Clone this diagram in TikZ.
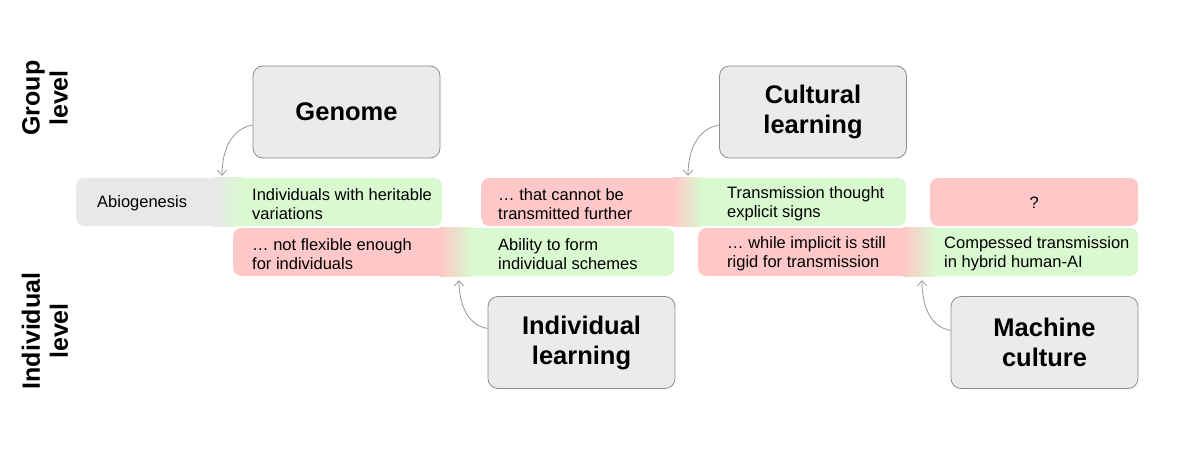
\documentclass[tikz,border=0pt]{standalone}
\usepackage{fontspec}
\setmainfont{Liberation Sans}
\usepackage{xcolor}
\usepackage{tikz}
\usetikzlibrary{arrows.meta,positioning}
\definecolor{barred}{RGB}{255,200,200}
\definecolor{bargreen}{RGB}{217,249,208}
\definecolor{bargray}{RGB}{232,232,232}
\definecolor{boxgray}{RGB}{235,235,235}
\definecolor{edgegray}{RGB}{140,140,140}
\definecolor{linkgray}{RGB}{150,150,150}

\begin{document}
\begin{tikzpicture}[x=1pt,y=-1pt,
  bar/.style={rounded corners=8pt,minimum height=48pt,inner sep=0pt,anchor=west},
  bartext/.style={anchor=west,align=left,inner sep=0pt,
        font=\fontsize{16.5}{19}\selectfont},
  stagebox/.style={draw=edgegray,fill=boxgray,rounded corners=10pt,line width=0.8pt,
        minimum width=187pt,minimum height=92pt,align=center,
        font=\fontsize{25.5}{30}\selectfont\bfseries},
  levellabel/.style={rotate=90,align=center,font=\fontsize{25}{28}\selectfont\bfseries},
  link/.style={-{Straight Barb[length=5pt,width=9pt]},draw=linkgray,line width=0.8pt}]
  \useasboundingbox (0,0) rectangle (1200,455);

  % group row
  \node[bar,fill=bargray,minimum width=150pt] (abio) at (76,202) {};
  \node[bar,fill=bargreen,minimum width=216pt] (heritable) at (226,202) {};
  \node[bar,fill=barred,minimum width=215pt] (cannot) at (481,202) {};
  \node[bar,fill=bargreen,minimum width=216pt] (explicit) at (690,202) {};
  \node[bar,fill=barred,minimum width=208pt] (unknown) at (930,202) {};
  % individual row
  \node[bar,fill=barred,minimum width=222pt] (notflexible) at (233,252) {};
  \node[bar,fill=bargreen,minimum width=224pt] (schemes) at (450,252) {};
  \node[bar,fill=barred,minimum width=222pt] (rigid) at (698,252) {};
  \node[bar,fill=bargreen,minimum width=218pt] (hybrid) at (920,252) {};

  % fades between neighbouring bars
  \shade[left color=bargray,right color=bargreen]
    ([xshift=-13pt]abio.north east) rectangle ([xshift=16pt]heritable.south west);
  \shade[left color=barred,right color=bargreen]
    ([xshift=-17pt]explicit.north west) rectangle ([xshift=12pt]explicit.south west);
  \shade[left color=barred,right color=bargreen]
    ([xshift=-10pt]schemes.north west) rectangle ([xshift=22pt]schemes.south west);
  \shade[left color=barred,right color=bargreen]
    ([xshift=-17pt]hybrid.north west) rectangle ([xshift=15pt]hybrid.south west);

  \node[bartext] (abiotext) at (97,203) {Abiogenesis};
  \node[bartext] (heritabletext) at (252,204) {Individuals with heritable\\variations};
  \node[bartext] (cannottext) at (498,204) {… that cannot be\\transmitted further};
  \node[bartext] (explicittext) at (727,204) {Transmission thought\\explicit signs};
  \node[bartext,anchor=center] (unknowntext) at ([yshift=-1pt]unknown.center) {?};
  \node[bartext] (notflexibletext) at (252,254) {… not flexible enough\\for individuals};
  \node[bartext] (schemestext) at (498,254) {Ability to form\\individual schemes};
  \node[bartext] (rigidtext) at (727,254) {… while implicit is still\\rigid for transmission};
  \node[bartext] (hybridtext) at (944,254) {Compessed transmission\\in hybrid human-AI};

  \node[stagebox] (genome) at (346.5,112) {Genome};
  \node[stagebox] (cultural) at (813,112) {Cultural\\learning};
  \node[stagebox] (individual) at (581.5,342.5) {Individual\\learning};
  \node[stagebox] (machine) at (1044.5,342.5) {Machine\\culture};

  \draw[link] ([yshift=-13pt]genome.west) to[out=190,in=90]
    ([xshift=-4pt,yshift=2pt]heritable.north west);
  \draw[link] ([yshift=-13pt]cultural.west) to[out=190,in=90]
    ([xshift=-2pt,yshift=2pt]explicit.north west);
  \draw[link] ([yshift=14pt]individual.west) to[out=170,in=-90]
    ([xshift=9pt,yshift=-4pt]schemes.south west);
  \draw[link] ([yshift=12pt]machine.west) to[out=170,in=-90]
    ([xshift=2pt,yshift=-4pt]hybrid.south west);

  \node[levellabel] (grouplevel) at (45,98) {Group\\level};
  \node[levellabel] (indivlevel) at (45,331) {Individual\\level};
\end{tikzpicture}
\end{document}
